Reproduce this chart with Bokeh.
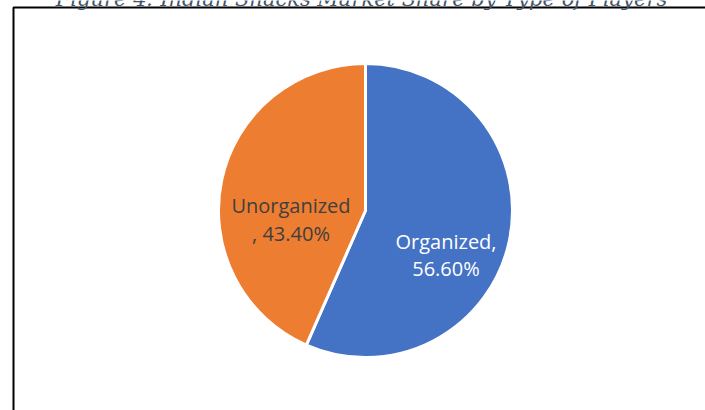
import math
from bokeh.plotting import figure
from bokeh.models import Range1d
from bokeh.core.properties import value
from bokeh.embed import file_html
from bokeh.resources import INLINE

# ---- data ----
categories = ["Organized", "Unorganized"]
shares = [56.6, 43.4]
colors = ["#4472C4", "#ED7D31"]
label_colors = ["#FFFFFF", "#404040"]
label_line1 = ["Organized,", "Unorganized"]
label_line2 = ["56.60%", ", 43.40%"]
title_text = "Figure 4: Indian Snacks Market Share by Type of Players"

W, H = 705, 410

p = figure(width=W, height=H, output_backend="svg", toolbar_location=None,
           x_range=Range1d(0, W), y_range=Range1d(0, H),
           min_border=0, margin=0)
p.axis.visible = False
p.grid.visible = False
p.outline_line_color = None
p.background_fill_color = "white"
p.border_fill_color = "white"

def Y(img_y):
    return H - img_y

# outer frame (extends beyond the window on right/bottom)
p.line(x=[13, 13, W + 20], y=[Y(H + 20), Y(7), Y(7)], line_color="#000000", line_width=2)

# title (partially cut at top, as in the reference)
p.text(x=[361], y=[Y(-1.5)], text=[title_text], text_align="center",
       text_baseline="alphabetic", text_font=value("DejaVu Serif"),
       text_font_style="italic", text_font_size="21px", text_color="#44546A")

# pie
cx, cy, r = 365, Y(210), 147
total = sum(shares)
start = math.pi / 2
for cat, s, c in zip(categories, shares, colors):
    end = start - 2 * math.pi * s / total
    p.wedge(x=cx, y=cy, radius=r, start_angle=start, end_angle=end,
            direction="clock", fill_color=c, line_color="white", line_width=3)
    start = end

# labels
label_x = [445.5, 290.5]
label_y1 = [241, 205]
label_y2 = [268, 233]
for i in range(len(categories)):
    p.text(x=[label_x[i]], y=[Y(label_y1[i])], text=[label_line1[i]],
           text_align="center", text_baseline="alphabetic",
           text_font=value("Open Sans"), text_font_size="20px",
           text_color=label_colors[i])
    p.text(x=[label_x[i]], y=[Y(label_y2[i])], text=[label_line2[i]],
           text_align="center", text_baseline="alphabetic",
           text_font=value("Open Sans"), text_font_size="20px",
           text_color=label_colors[i])

open("out.html", "w").write(file_html(p, INLINE))
